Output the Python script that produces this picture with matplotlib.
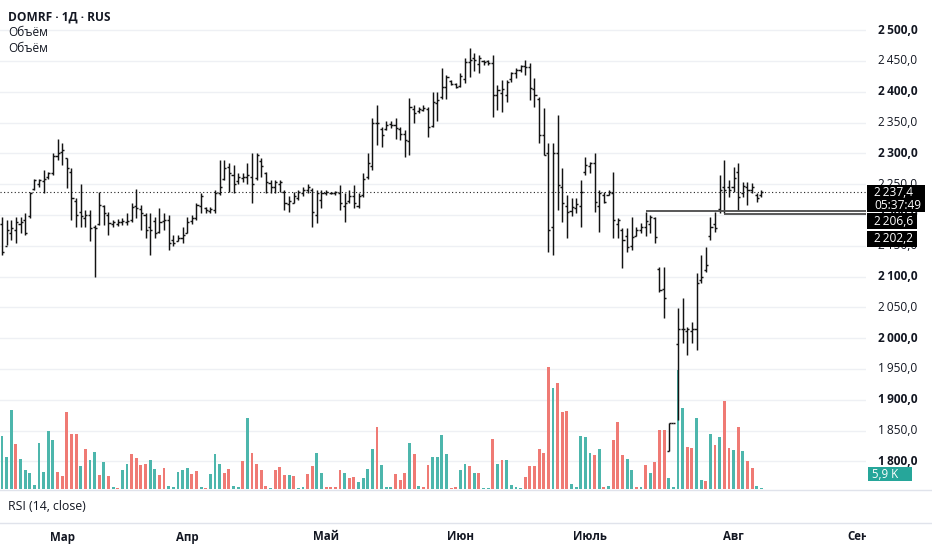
import matplotlib.pyplot as plt
from matplotlib.patches import Rectangle
from matplotlib.transforms import blended_transform_factory

plt.rcParams['font.family'] = ['Open Sans', 'DejaVu Sans']

# daily OHLC, DOMRF
open_ = [2185, 2150, 2170, 2175, 2185, 2192, 2198, 2242, 2250, 2255,
         2262, 2268, 2296, 2302, 2292, 2270, 2222, 2205, 2195, 2200,
         2180, 2186, 2214, 2200, 2186, 2186, 2188, 2188, 2192, 2214,
         2210, 2200, 2180, 2190, 2172, 2190, 2192, 2160, 2158, 2162,
         2170, 2190, 2195, 2215, 2212, 2206, 2208, 2236, 2258, 2278,
         2265, 2255, 2260, 2262, 2262, 2260, 2288, 2268, 2252, 2245,
         2250, 2238, 2218, 2220, 2228, 2236, 2240, 2240, 2200, 2225,
         2235, 2236, 2236, 2236, 2215, 2222, 2230, 2215, 2232, 2262,
         2280, 2350, 2340, 2340, 2348, 2346, 2340, 2332, 2320, 2372,
         2369, 2370, 2372, 2345, 2382, 2392, 2408, 2417, 2412, 2410,
         2420, 2448, 2455, 2445, 2450, 2450, 2446, 2395, 2398, 2395,
         2420, 2430, 2435, 2442, 2440, 2405, 2388, 2330, 2300, 2180,
         2300, 2245, 2215, 2207, 2212, 2215, 2270, 2280, 2285, 2215,
         2232, 2233, 2235, 2185, 2175, 2165, 2150, 2166, 2176, 2180,
         2185, 2195, 2112, 2080, 1817, 1862, 1990, 2015, 2012, 2012,
         2015, 2095, 2110, 2165, 2185, 2210, 2245, 2245, 2245, 2270,
         2235, 2245, 2240, 2232, 2232]
high = [2197, 2192, 2192, 2197, 2197, 2203, 2238, 2259, 2259, 2273,
        2270, 2300, 2324, 2316, 2292, 2276, 2227, 2251, 2208, 2208,
        2184, 2238, 2216, 2205, 2192, 2193, 2195, 2203, 2219, 2242,
        2216, 2203, 2203, 2197, 2211, 2203, 2200, 2168, 2168, 2181,
        2197, 2200, 2219, 2235, 2213, 2213, 2240, 2289, 2289, 2284,
        2281, 2268, 2268, 2284, 2300, 2300, 2292, 2270, 2257, 2257,
        2257, 2241, 2230, 2238, 2241, 2246, 2251, 2243, 2240, 2240,
        2240, 2238, 2239, 2249, 2235, 2240, 2249, 2235, 2268, 2300,
        2357, 2378, 2343, 2352, 2352, 2357, 2343, 2338, 2390, 2378,
        2376, 2378, 2375, 2400, 2400, 2439, 2427, 2419, 2414, 2430,
        2455, 2471, 2463, 2460, 2452, 2452, 2460, 2411, 2419, 2419,
        2432, 2438, 2443, 2452, 2446, 2422, 2391, 2373, 2316, 2316,
        2362, 2276, 2232, 2227, 2227, 2257, 2294, 2286, 2300, 2240,
        2237, 2240, 2270, 2195, 2179, 2179, 2197, 2181, 2187, 2205,
        2200, 2197, 2115, 2115, 1862, 1862, 2049, 2065, 2018, 2026,
        2106, 2135, 2148, 2197, 2205, 2265, 2289, 2257, 2278, 2284,
        2254, 2254, 2252, 2235, 2240]
low = [2135, 2151, 2159, 2154, 2170, 2167, 2195, 2240, 2246, 2235,
       2259, 2265, 2289, 2281, 2243, 2192, 2181, 2181, 2181, 2157,
       2100, 2184, 2184, 2167, 2181, 2182, 2184, 2184, 2189, 2195,
       2176, 2162, 2135, 2162, 2170, 2176, 2143, 2149, 2157, 2154,
       2170, 2186, 2192, 2203, 2203, 2203, 2203, 2232, 2257, 2238,
       2235, 2251, 2254, 2251, 2219, 2257, 2262, 2235, 2235, 2235,
       2238, 2208, 2205, 2219, 2224, 2230, 2235, 2180, 2187, 2211,
       2232, 2234, 2233, 2208, 2189, 2219, 2211, 2211, 2229, 2259,
       2273, 2313, 2311, 2338, 2341, 2324, 2322, 2294, 2297, 2349,
       2366, 2368, 2327, 2343, 2352, 2388, 2389, 2411, 2406, 2408,
       2414, 2424, 2433, 2430, 2443, 2444, 2359, 2370, 2367, 2384,
       2416, 2422, 2432, 2427, 2387, 2375, 2316, 2297, 2140, 2135,
       2208, 2189, 2162, 2199, 2203, 2180, 2265, 2268, 2205, 2172,
       2219, 2232, 2163, 2163, 2114, 2140, 2143, 2165, 2170, 2165,
       2170, 2154, 2075, 2033, 1817, 1862, 1867, 1992, 1973, 1992,
       1981, 2090, 2107, 2159, 2172, 2203, 2203, 2229, 2238, 2208,
       2229, 2216, 2235, 2221, 2229]
close = [2140, 2176, 2178, 2189, 2189, 2170, 2236, 2257, 2257, 2259,
         2268, 2295, 2300, 2305, 2276, 2227, 2200, 2198, 2200, 2178,
         2178, 2216, 2203, 2187, 2189, 2188, 2190, 2190, 2213, 2211,
         2203, 2176, 2176, 2170, 2189, 2192, 2154, 2154, 2162, 2168,
         2189, 2195, 2216, 2230, 2208, 2210, 2235, 2246, 2276, 2268,
         2251, 2262, 2262, 2265, 2251, 2297, 2279, 2254, 2246, 2254,
         2254, 2219, 2222, 2230, 2238, 2241, 2246, 2205, 2235, 2235,
         2237, 2236, 2237, 2219, 2219, 2230, 2219, 2230, 2259, 2284,
         2349, 2349, 2330, 2346, 2346, 2341, 2332, 2322, 2375, 2365,
         2372, 2373, 2343, 2383, 2386, 2408, 2424, 2413, 2408, 2425,
         2448, 2452, 2452, 2455, 2449, 2447, 2395, 2403, 2405, 2416,
         2430, 2435, 2441, 2440, 2406, 2395, 2330, 2297, 2176, 2300,
         2249, 2219, 2205, 2213, 2218, 2237, 2281, 2284, 2221, 2235,
         2221, 2237, 2192, 2192, 2159, 2148, 2164, 2176, 2180, 2190,
         2197, 2164, 2078, 2065, 1862, 1862, 2015, 2015, 2015, 2015,
         2090, 2099, 2118, 2180, 2179, 2240, 2240, 2240, 2260, 2229,
         2247, 2240, 2245, 2228, 2237.4]

# volume (relative units) and bar direction g = up, r = down
volume = [53, 32, 79, 45, 30, 19, 16, 4, 46, 17,
          58, 49, 17, 13, 77, 55, 55, 23, 40, 29,
          37, 14, 27, 13, 2, 1, 19, 25, 35, 31,
          24, 25, 29, 20, 14, 21, 3, 2, 17, 19,
          21, 15, 18, 2, 1, 15, 35, 25, 16, 20,
          3, 2, 28, 71, 36, 25, 19, 3, 1, 19,
          22, 14, 14, 13, 1, 2, 15, 23, 36, 16,
          2, 2, 2, 19, 16, 11, 12, 7, 11, 20,
          40, 62, 24, 2, 2, 15, 9, 16, 46, 35,
          3, 2, 24, 32, 32, 54, 35, 1, 2, 19,
          25, 23, 16, 16, 1, 1, 50, 25, 29, 29,
          4, 2, 1, 12, 23, 23, 40, 36, 122, 101,
          106, 77, 78, 5, 2, 53, 52, 36, 34, 40,
          2, 3, 49, 67, 34, 30, 19, 2, 2, 24,
          16, 27, 59, 59, 11, 2, 119, 81, 42, 41,
          71, 9, 8, 55, 44, 52, 88, 41, 39, 62,
          38, 28, 21, 3, 1]
vol_dir = ("gggrgggggg" "ggrrrrrgrg" "grgrgrggrr" "rrggrrgggg" "grrgrgggrr"
           "ggrgrrrrgr" "rrgrggrrgg" "rrrrgrrggg" "grgggrrrgr" "grrggggrrg"
           "grgrggrgrg" "gggrrrrrrg" "rrrgggggrg" "rgrrrggrgr" "grrrggggrr"
           "ggrgrgrrgr" "grrgg")

months = ['Мар', 'Апр', 'Май', 'Июн', 'Июль', 'Авг', 'Сен']
month_pos = [13, 40, 70, 99, 127, 158, 185]
price_ticks = list(range(1800, 2501, 50))
last_price = 2237.4
last_time = '05:37:49'
levels = [2206.6, 2202.2]
level_start = [139, 156]
last_volume = '5,9 K'

W, H = 932, 550
fig = plt.figure(figsize=(W / 100, H / 100), dpi=100)
fig.patch.set_facecolor('white')


def fx(px):
    return px / W


def fy(py):
    return 1 - py / H


rect = [0, fy(489), fx(866), 489 / H]
vax = fig.add_axes(rect)
ax = fig.add_axes(rect, sharex=vax)
ax.patch.set_visible(False)
vax.set_axis_off()
ax.set_axis_off()

x = list(range(len(close)))
up_c, dn_c = '#4db6ac', '#ef7a74'

# grid, drawn under the volume bars
grid_tr = blended_transform_factory(vax.transAxes, ax.transData)
for p in price_ticks:
    vax.plot([0, 1], [p, p], transform=grid_tr, color='#eef0f4', lw=1.0, zorder=0)

vax.bar(x, volume, width=0.62, color=[up_c if d == 'g' else dn_c for d in vol_dir],
        zorder=1)

# OHLC bars
bar_c = '#131313'
ax.vlines(x, low, high, color=bar_c, lw=1.05, zorder=3)
ax.hlines(open_, [i - 0.45 for i in x], x, color=bar_c, lw=1.05, zorder=3)
ax.hlines(close, x, [i + 0.45 for i in x], color=bar_c, lw=1.05, zorder=3)

ax.axhline(last_price, color='#222222', lw=0.8, ls=(0, (1, 2.2)), zorder=2)
for lv, st in zip(levels, level_start):
    ax.hlines(lv, st, 200, color='#4a4a4a', lw=1.3, zorder=4)

ax.set_xlim(-0.43, 186.6)
ax.set_ylim(1755.1, 2548.9)
vax.set_ylim(0, max(volume) * 4.0)

# price scale on the right
lab_tr = blended_transform_factory(fig.transFigure, ax.transData)
for p in price_ticks:
    txt = f"{p // 1000}\u2009{p % 1000:03d},0"
    fig.text(fx(878), p, txt, transform=lab_tr, fontsize=8.6, va='center', ha='left',
             color='#131722', fontweight='bold' if p % 100 == 0 else 'normal', zorder=1)


def label_box(x0, x1, y0, y1, color):
    fig.add_artist(Rectangle((fx(x0), fy(y1)), fx(x1 - x0), (y1 - y0) / H,
                             transform=fig.transFigure, facecolor=color,
                             edgecolor='none', zorder=2))


def fmt(v):
    s = f"{v:,.1f}".replace(',', '\u2009').replace('.', ',')
    return s


label_box(867, 925, 185, 212, '#000000')
fig.text(fx(874), fy(193), fmt(last_price), color='white', fontsize=8.6, va='center', zorder=3)
fig.text(fx(874), fy(205), last_time, color='white', fontsize=8.6, va='center', zorder=3)
label_box(867, 917, 213, 229, '#000000')
fig.text(fx(874), fy(221.5), fmt(levels[0]), color='white', fontsize=8.6, va='center', zorder=3)
label_box(867, 917, 231, 247, '#000000')
fig.text(fx(874), fy(239), fmt(levels[1]), color='white', fontsize=8.6, va='center', zorder=3)
label_box(868, 912, 467, 481, '#26a69a')
fig.text(fx(872), fy(474), last_volume, color='white', fontsize=8.3, va='center', zorder=3)

# legend texts
fig.text(fx(8), fy(17), 'DOMRF · 1Д · RUS', fontsize=8.6, fontweight='bold',
         va='center', color='#131722')
fig.text(fx(8), fy(33), 'Объём', fontsize=8.6, va='center', color='#131722')
fig.text(fx(8), fy(49), 'Объём', fontsize=8.6, va='center', color='#131722')

# collapsed RSI pane and time axis
fig.add_artist(plt.Line2D([0, 1], [fy(490), fy(490)], transform=fig.transFigure,
                          color='#e0e3eb', lw=1.0))
fig.add_artist(plt.Line2D([0, 1], [fy(523), fy(523)], transform=fig.transFigure,
                          color='#e0e3eb', lw=1.0))
fig.text(fx(8), fy(507), 'RSI (14, close)', fontsize=8.8, va='center', color='#131722')

clip = Rectangle((0, 0), fx(866), fy(524), transform=fig.transFigure,
                 facecolor='none', edgecolor='none')
fig.add_artist(clip)
t_tr = blended_transform_factory(ax.transData, fig.transFigure)
for m, pos in zip(months, month_pos):
    t = fig.text(pos, fy(537), m, transform=t_tr, fontsize=8.3, fontweight='bold',
                 ha='center', va='center', color='#131722')
    t.set_clip_path(clip)

fig.savefig('out.png', dpi=100)
